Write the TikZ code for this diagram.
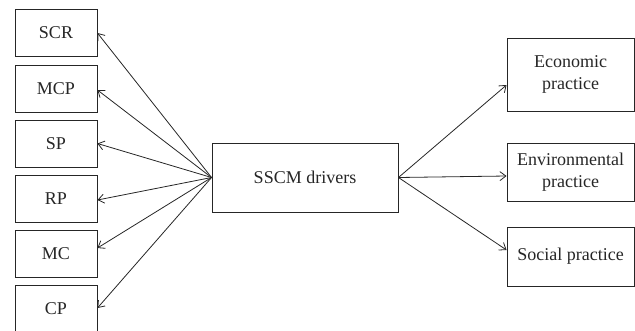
\documentclass[tikz,border=0pt]{standalone}
\usepackage{fontspec}
\setmainfont{Liberation Serif}
\usetikzlibrary{arrows.meta}
\begin{document}
\begin{tikzpicture}[x=1pt,y=-1pt,
  box/.style={draw=black!85, line width=0.9pt, inner sep=0pt, font=\fontsize{18}{22.5}\selectfont, align=center, text=black!85},
  lbox/.style={box, minimum width=82pt, minimum height=47pt},
  rbox/.style={box, minimum width=127pt},
  conn/.style={draw=black!85, line width=0.8pt, -{Straight Barb[length=6pt,width=9pt,line width=0.8pt]}}]
\useasboundingbox (0,0) rectangle (635,330);
\node[lbox] (scr) at (56,33) {SCR};
\node[lbox] (mcp) at (56,88.5) {MCP};
\node[lbox] (sp)  at (56,143.5) {SP};
\node[lbox] (rp)  at (56,198.5) {RP};
\node[lbox] (mc)  at (56,254) {MC};
\node[lbox] (cp)  at (56,309) {CP};
\node[box, minimum width=186pt, minimum height=69pt] (drv) at (305,177.5) {SSCM drivers};
\node[rbox, minimum height=73pt] (eco) at (570.5,74.5) {Economic\\practice};
\node[rbox, minimum height=58pt] (env) at (570.5,172) {Environmental\\practice};
\node[rbox, minimum height=59pt] (soc) at (570.5,256.5) {Social practice};
\coordinate (src) at (drv.west);
\coordinate (dst) at (drv.east);
\draw[conn] (src) -- (scr.east);
\draw[conn] (src) -- ([yshift=-1.5pt]mcp.east);
\draw[conn] (src) -- (sp.east);
\draw[conn] (src) -- ([yshift=-1.5pt]rp.east);
\draw[conn] (src) -- ([yshift=6pt]mc.east);
\draw[conn] (src) -- ([yshift=1pt]cp.east);
\draw[conn] (dst) -- ([yshift=-10.5pt]eco.west);
\draw[conn] (dst) -- ([yshift=-4pt]env.west);
\draw[conn] (dst) -- ([yshift=6.5pt]soc.west);
\end{tikzpicture}
\end{document}
